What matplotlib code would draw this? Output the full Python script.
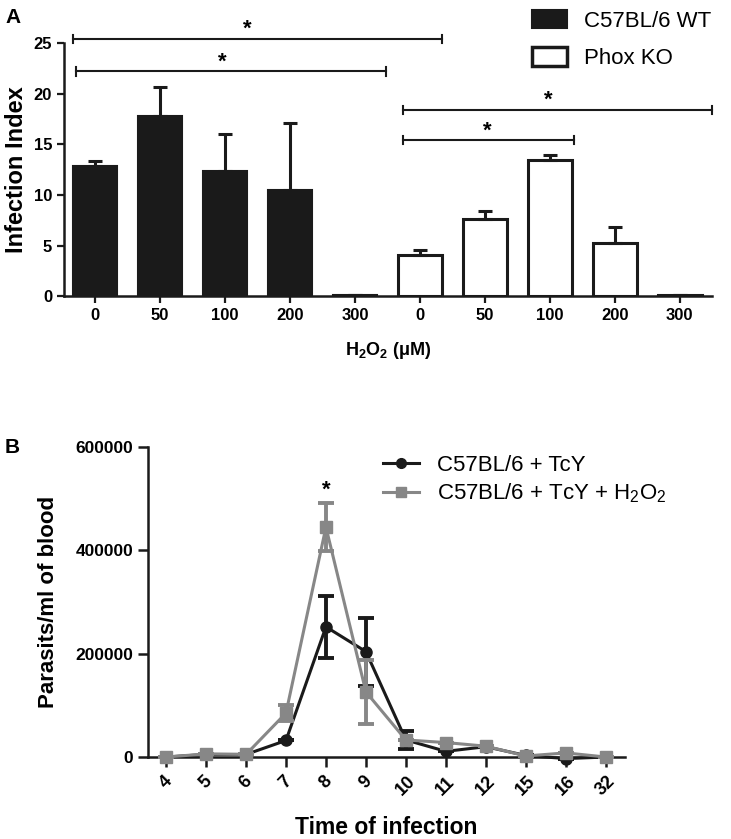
import numpy as np
import matplotlib.pyplot as plt
from matplotlib.patches import Patch
from matplotlib.lines import Line2D

plt.rcParams['font.family'] = ['Liberation Sans', 'DejaVu Sans']
plt.rcParams['mathtext.fontset'] = 'custom'
plt.rcParams['mathtext.rm'] = 'Liberation Sans'
plt.rcParams['mathtext.bf'] = 'Liberation Sans:bold'
plt.rcParams['mathtext.default'] = 'regular'

# panel A data
doses = ['0', '50', '100', '200', '300']
wt_mean = [12.9, 17.8, 12.35, 10.45, 0.08]
wt_err = [0.5, 2.9, 3.7, 6.65, 0.0]
ko_mean = [4.05, 7.6, 13.5, 5.3, 0.12]
ko_err = [0.55, 0.85, 0.4, 1.55, 0.0]

# significance brackets: (x start, x end, height)
brackets = [(-0.34, 5.34, 25.4), (-0.3, 4.47, 22.2), (4.74, 9.49, 18.4), (4.74, 7.37, 15.4)]
star_x = [2.34, 1.96, 6.98, 6.03]

# panel B data
days = ['4', '5', '6', '7', '8', '9', '10', '11', '12', '15', '16', '32']
tcy_mean = [0, 5000, 5000, 32000, 252000, 204000, 33000, 11000, 20000, 3000, -3000, 0]
tcy_err = [0, 0, 0, 0, 60000, 66000, 17000, 0, 0, 0, 0, 0]
h2o2_mean = [0, 6000, 5000, 85000, 445000, 126000, 33000, 28000, 21000, 2000, 8000, 0]
h2o2_err = [0, 0, 0, 15000, 47000, 62000, 0, 0, 0, 0, 0, 0]

fig = plt.figure(figsize=(7.31, 8.39), dpi=100)
gray = '#878787'
dark = '#1a1a1a'

# ---------- panel A ----------
axA = fig.add_axes([0.0876, 0.647, 0.886, 0.3016])
xw = np.arange(len(doses))
xk = np.arange(len(doses)) + len(doses)
bw = 0.68
axA.bar(xw, wt_mean, bw, color=dark, edgecolor=dark, linewidth=1.5,
        yerr=[np.zeros(5), wt_err], capsize=5,
        error_kw=dict(elinewidth=2.2, capthick=2.2, ecolor=dark))
axA.bar(xk, ko_mean, bw, color='white', edgecolor=dark, linewidth=2.2,
        yerr=[np.zeros(5), ko_err], capsize=5,
        error_kw=dict(elinewidth=2.2, capthick=2.2, ecolor=dark))
axA.set_xlim(-0.48, 9.49)
axA.set_ylim(0, 25)
axA.set_yticks([0, 5, 10, 15, 20, 25])
axA.set_xticks(np.arange(10))
axA.set_xticklabels(doses + doses)
for (x0, x1, h), sx in zip(brackets, star_x):
    axA.plot([x0, x1], [h, h], color=dark, lw=1.5, clip_on=False)
    for xe in (x0, x1):
        axA.plot([xe, xe], [h - 0.4, h + 0.4], color=dark, lw=1.5, clip_on=False)
    axA.text(sx, h - 0.1, '*', ha='center', va='bottom', fontsize=16, fontweight='bold')
axA.set_ylabel('Infection Index', fontsize=17, fontweight='bold', labelpad=4)
axA.set_xlabel(r'$\mathbf{H_2O_2}$ (μM)', fontsize=13, fontweight='bold', labelpad=12)

handlesA = [Patch(facecolor=dark, edgecolor=dark, lw=1.5),
            Patch(facecolor='white', edgecolor=dark, lw=2.5)]
fig.legend(handlesA, ['C57BL/6 WT', 'Phox KO'], loc='upper right',
           bbox_to_anchor=(1.0, 1.012), frameon=False, fontsize=16,
           handlelength=1.6, handleheight=0.9, handletextpad=0.75, labelspacing=0.7)

# ---------- panel B ----------
axB = fig.add_axes([0.2025, 0.0977, 0.6525, 0.3695])
xd = np.arange(len(days))
axB.errorbar(xd, tcy_mean, yerr=tcy_err, color=dark, lw=2.2, marker='o', ms=8,
             capsize=6, capthick=2.8, elinewidth=2.8, clip_on=False, zorder=3)
axB.errorbar(xd, h2o2_mean, yerr=h2o2_err, color=gray, lw=2.2, marker='s', ms=8.5,
             capsize=6, capthick=2.8, elinewidth=2.8, clip_on=False, zorder=4)
axB.text(4, 505000, '*', ha='center', va='baseline', fontsize=16, fontweight='bold')
axB.set_xlim(-0.45, 11.48)
axB.set_ylim(0, 600000)
axB.set_yticks([0, 200000, 400000, 600000])
axB.set_xticks(xd)
axB.set_xticklabels(days, rotation=45, ha='center')
axB.set_ylabel('Parasits/ml of blood', fontsize=16, fontweight='bold', labelpad=12)
axB.set_xlabel('Time of infection', fontsize=16.5, fontweight='bold', labelpad=12)

handlesB = [Line2D([], [], color=dark, lw=2.2, marker='o', ms=7),
            Line2D([], [], color=gray, lw=2.2, marker='s', ms=7.5)]
fig.legend(handlesB, ['C57BL/6 + TcY', r'C57BL/6 + TcY + H$_2$O$_2$'],
           loc='upper left', bbox_to_anchor=(0.497, 0.4815), frameon=False, fontsize=16,
           handlelength=1.6, handletextpad=0.8, labelspacing=0.25)

for ax in (axA, axB):
    for s in ('top', 'right'):
        ax.spines[s].set_visible(False)
    for s in ('left', 'bottom'):
        ax.spines[s].set_linewidth(1.8)
        ax.spines[s].set_color(dark)
    for lab in ax.get_xticklabels() + ax.get_yticklabels():
        lab.set_fontweight('bold')
axA.tick_params(width=1.6, length=5, labelsize=12, color=dark)
axB.tick_params(width=1.8, length=7.5, labelsize=12.5, color=dark, pad=3)
axB.tick_params(axis='x', labelsize=13, pad=4)

fig.text(0.007, 0.99, 'A', fontsize=15, fontweight='bold', va='top')
fig.text(0.007, 0.478, 'B', fontsize=15, fontweight='bold', va='top')

fig.savefig('out.png', dpi=100)
